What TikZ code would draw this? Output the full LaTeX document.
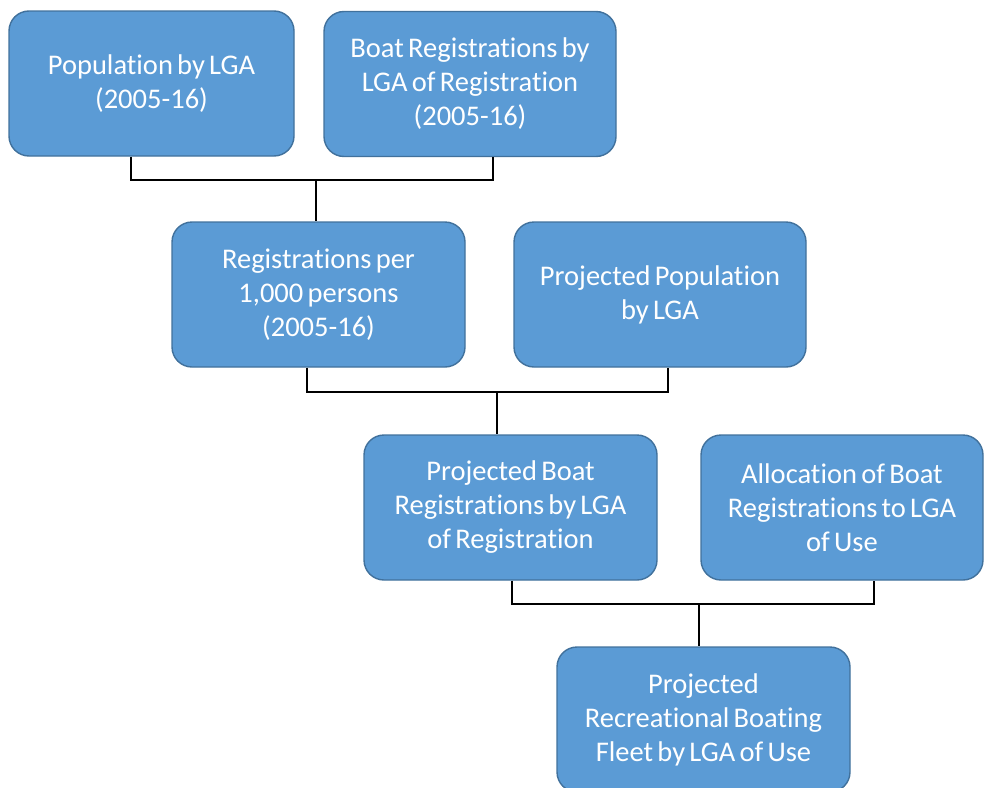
\documentclass[tikz,border=0pt]{standalone}
\usepackage{fontspec}
\setmainfont[Ligatures=NoCommon]{Carlito}
\definecolor{boxfill}{HTML}{5B9BD5}
\definecolor{boxline}{HTML}{41719C}
\newcommand\myboxfont{\fontsize{28.5}{34}\selectfont\spaceskip=0.15em\relax}
\begin{document}
\begin{tikzpicture}[x=1pt,y=-1pt,
  box/.style={draw=boxline, fill=boxfill, line width=1.4pt, rounded corners=20pt,
    minimum height=145pt, text=white, align=center, inner sep=0pt,
    font=\myboxfont},
  link/.style={draw=black, line width=1.8pt}]
\clip (0,0) rectangle (984,787);
\node[box, minimum width=285pt] (b1) at (151.5,83.5) {Population by LGA\\(2005-16)};
\node[box, minimum width=292pt] (b2) at (470,84) {Boat Registrations by\\LGA of Registration\\(2005-16)};
\node[box, minimum width=293pt] (b3) at (318.5,294.5) {Registrations per\\1,000 persons\\(2005-16)};
\node[box, minimum width=292pt] (b4) at (660,294.5) {Projected Population\\by LGA};
\node[box, minimum width=293pt] (b5) at (510.5,507.5) {Projected Boat\\Registrations by LGA\\of Registration};
\node[box, minimum width=282pt] (b6) at (842,507.5) {Allocation of Boat\\Registrations to LGA\\of Use};
\node[box, minimum width=293pt] (b7) at (703.5,719.5) {Projected\\Recreational Boating\\Fleet by LGA of Use};
\coordinate (j1) at (316,180);
\coordinate (j2) at (497,392);
\coordinate (j3) at (699,604);
\draw[link] ([xshift=-20.5pt]b1.south) |- (j1) -| ([xshift=23pt]b2.south);
\draw[link] (j1) -- (j1 |- b3.north);
\draw[link] ([xshift=-11.5pt]b3.south) |- (j2) -| ([xshift=8pt]b4.south);
\draw[link] (j2) -- (j2 |- b5.north);
\draw[link] ([xshift=1.5pt]b5.south) |- (j3) -| ([xshift=32pt]b6.south);
\draw[link] (j3) -- (j3 |- b7.north);
\end{tikzpicture}
\end{document}
